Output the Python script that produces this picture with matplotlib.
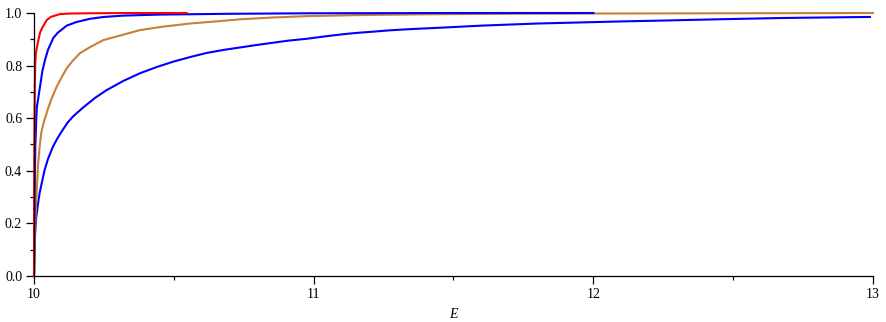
import matplotlib.pyplot as plt
from matplotlib.ticker import MultipleLocator

# curve samples (E, value)
red_E = [10.0, 10.001, 10.003, 10.0046, 10.007, 10.0143, 10.0215, 10.03, 10.0454,
         10.06, 10.093, 10.13, 10.2, 10.35, 10.546]
red_v = [0.0, 0.45, 0.72, 0.81, 0.85, 0.89, 0.925, 0.945, 0.973,
         0.985, 0.996, 0.998, 0.999, 1.0, 1.0]

blue1_E = [10.0, 10.002, 10.005, 10.0082, 10.01, 10.0143, 10.0215, 10.03, 10.0393,
           10.05, 10.069, 10.085, 10.117, 10.15, 10.2, 10.25, 10.318, 10.45, 10.7,
           11.0, 11.5, 12.0]
blue1_v = [0.0, 0.30, 0.50, 0.60, 0.64, 0.67, 0.72, 0.78, 0.821,
           0.86, 0.905, 0.925, 0.952, 0.965, 0.978, 0.985, 0.99, 0.994, 0.997,
           0.999, 1.0, 1.0]

orange_E = [10.0, 10.003, 10.0072, 10.0143, 10.02, 10.026, 10.035, 10.044, 10.0511,
            10.065, 10.0812, 10.1, 10.117, 10.14, 10.164, 10.2, 10.248, 10.3, 10.379,
            10.46, 10.558, 10.65, 10.737, 10.855, 10.975, 11.154, 11.391,
            11.7, 12.0, 12.5, 13.0]
orange_v = [0.0, 0.15, 0.27, 0.42, 0.49, 0.545, 0.585, 0.615, 0.64,
            0.68, 0.72, 0.758, 0.79, 0.82, 0.847, 0.87, 0.897, 0.912, 0.935,
            0.948, 0.96, 0.968, 0.976, 0.983, 0.988, 0.992, 0.995,
            0.997, 0.998, 0.999, 1.0]

blue2_E = [10.0, 10.002, 10.005, 10.0082, 10.013, 10.02, 10.028, 10.038, 10.05,
           10.068, 10.083, 10.098, 10.12, 10.14, 10.176, 10.218, 10.26, 10.32,
           10.379, 10.44, 10.498, 10.56, 10.617, 10.68, 10.737, 10.8, 10.855,
           10.91, 10.975, 11.04, 11.094, 11.15, 11.212, 11.27, 11.333, 11.39,
           11.452, 11.6, 11.8, 11.988, 12.1, 12.238, 12.36, 12.488, 12.58,
           12.674, 12.83, 12.989]
blue2_v = [0.0, 0.12, 0.18, 0.225, 0.265, 0.315, 0.355, 0.403, 0.445,
           0.492, 0.522, 0.548, 0.583, 0.607, 0.641, 0.677, 0.707, 0.742,
           0.771, 0.795, 0.815, 0.833, 0.848, 0.86, 0.869, 0.879, 0.887,
           0.895, 0.902, 0.911, 0.918, 0.924, 0.929, 0.934, 0.938, 0.941,
           0.944, 0.952, 0.96, 0.965, 0.968, 0.971, 0.974, 0.977, 0.979,
           0.981, 0.983, 0.985]

plt.rcParams['font.family'] = ['Liberation Serif', 'DejaVu Serif']

fig = plt.figure(figsize=(8.86, 3.22), dpi=100)
ax = fig.add_axes([34 / 886, 1 - 276 / 322, (873 - 34) / 886, (276 - 13) / 322])

ax.plot(blue2_E, blue2_v, color='#0000ff', linewidth=1.5, clip_on=False)
ax.plot(orange_E, orange_v, color='#c87f37', linewidth=1.5, clip_on=False)
ax.plot(blue1_E, blue1_v, color='#0000ff', linewidth=1.5, clip_on=False)
ax.plot(red_E, red_v, color='#ff0000', linewidth=1.5, clip_on=False)

ax.set_xlim(10, 13)
ax.set_ylim(0, 1)
ax.spines['top'].set_visible(False)
ax.spines['right'].set_visible(False)
for s in ('left', 'bottom'):
    ax.spines[s].set_linewidth(0.9)

ax.xaxis.set_major_locator(MultipleLocator(1))
ax.xaxis.set_minor_locator(MultipleLocator(0.5))
ax.yaxis.set_major_locator(MultipleLocator(0.2))
ax.yaxis.set_minor_locator(MultipleLocator(0.1))
ax.yaxis.set_major_formatter(lambda v, p: f"{v:.1f}")
ax.tick_params(which='major', length=5.5, width=0.9, labelsize=10, pad=3)
ax.tick_params(which='minor', length=2.7, width=0.9)

ax.set_xlabel("E", fontstyle='italic', fontsize=10, labelpad=5)

fig.savefig("out.png", dpi=100)
